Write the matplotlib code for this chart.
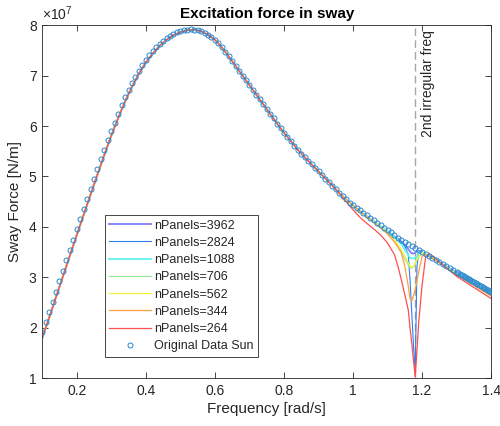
import numpy as np
import matplotlib
matplotlib.use("Agg")
import matplotlib.pyplot as plt

plt.rcParams['font.family'] = ['Liberation Sans', 'DejaVu Sans']
plt.rcParams['mathtext.fontset'] = 'custom'
plt.rcParams['mathtext.rm'] = 'Liberation Sans'

# Original data (Sun), sway force in 1e7 N/m
freq_orig = np.round(np.arange(0.10, 1.3001, 0.01), 3)
force_orig = [
    1.92, 2.12, 2.32, 2.52, 2.72, 2.92, 3.13, 3.34, 3.54, 3.75,
    3.95, 4.15, 4.35, 4.55, 4.75, 4.95, 5.14, 5.34, 5.53, 5.72,
    5.90, 6.07, 6.24, 6.41, 6.57, 6.72, 6.85, 6.98, 7.10, 7.21,
    7.31, 7.40, 7.48, 7.56, 7.63, 7.69, 7.74, 7.79, 7.83, 7.86,
    7.88, 7.90, 7.91, 7.92, 7.91, 7.90, 7.88, 7.85, 7.81, 7.77,
    7.71, 7.64, 7.56, 7.47, 7.38, 7.29, 7.19, 7.10, 7.00, 6.91,
    6.81, 6.72, 6.62, 6.53, 6.43, 6.34, 6.24, 6.15, 6.05, 5.96,
    5.87, 5.78, 5.70, 5.61, 5.53, 5.45, 5.38, 5.31, 5.24, 5.17,
    5.10, 5.03, 4.96, 4.89, 4.82, 4.75, 4.68, 4.62, 4.55, 4.48,
    4.43, 4.38, 4.33, 4.28, 4.23, 4.18, 4.13, 4.08, 4.03, 3.98,
    3.93, 3.89, 3.84, 3.79, 3.75, 3.70, 3.66, 3.62, 3.58, 3.54,
    3.50, 3.46, 3.42, 3.38, 3.34, 3.30, 3.26, 3.22, 3.18, 3.14,
    3.10,
]
# dense part of the original data at the high-frequency end
freq_orig_tail = np.round(np.arange(1.305, 1.4001, 0.005), 3)
force_orig_tail = [
    3.08, 3.06, 3.04, 3.02, 3.00, 2.98, 2.965, 2.945, 2.925, 2.905,
    2.885, 2.865, 2.85, 2.83, 2.81, 2.79, 2.775, 2.755, 2.74, 2.72,
]

# Panel results: shared part below 0.95 rad/s
freq_low = np.round(np.arange(0.10, 0.9401, 0.02), 3)
force_low = [
    1.80, 2.20, 2.61, 3.02, 3.43, 3.84, 4.24, 4.64, 5.04, 5.43,
    5.81, 6.16, 6.49, 6.78, 7.04, 7.26, 7.44, 7.59, 7.71, 7.80,
    7.86, 7.90, 7.91, 7.88, 7.81, 7.71, 7.56, 7.38, 7.19, 7.00,
    6.81, 6.62, 6.43, 6.24, 6.05, 5.87, 5.70, 5.53, 5.38, 5.24,
    5.10, 4.96, 4.82,
]

# Panel results around the irregular frequency and above
freq_high = [0.96, 0.98, 1.00, 1.02, 1.04, 1.06, 1.08, 1.10, 1.12, 1.13,
             1.14, 1.15, 1.16, 1.165, 1.17, 1.175, 1.18, 1.185, 1.19, 1.20,
             1.21, 1.22, 1.24, 1.26, 1.30, 1.35, 1.40]
force_3962 = [4.67, 4.54, 4.42, 4.31, 4.21, 4.11, 4.01, 3.91, 3.81, 3.76,
              3.71, 3.64, 3.56, 3.51, 3.48, 3.47, 3.49, 3.52, 3.53, 3.50,
              3.46, 3.42, 3.34, 3.26, 3.09, 2.90, 2.71]
force_2824 = [4.67, 4.54, 4.42, 4.31, 4.21, 4.11, 4.01, 3.91, 3.81, 3.76,
              3.70, 3.62, 3.45, 2.95, 2.30, 1.65, 1.13, 3.20, 3.50, 3.50,
              3.46, 3.42, 3.34, 3.26, 3.09, 2.90, 2.71]
force_1088 = [4.67, 4.54, 4.42, 4.31, 4.21, 4.11, 4.01, 3.91, 3.80, 3.74,
              3.66, 3.55, 3.44, 3.39, 3.38, 3.38, 3.38, 3.42, 3.50, 3.50,
              3.46, 3.42, 3.34, 3.26, 3.08, 2.89, 2.70]
force_706 = [4.66, 4.53, 4.41, 4.30, 4.20, 4.10, 4.00, 3.89, 3.72, 3.62,
             3.50, 3.36, 3.24, 3.19, 3.18, 3.21, 3.27, 3.34, 3.41, 3.48,
             3.46, 3.42, 3.34, 3.25, 3.07, 2.87, 2.68]
force_562 = [4.66, 4.53, 4.41, 4.30, 4.20, 4.10, 4.00, 3.89, 3.74, 3.65,
             3.55, 3.42, 3.28, 3.22, 3.20, 3.22, 3.28, 3.36, 3.43, 3.49,
             3.46, 3.42, 3.34, 3.25, 3.06, 2.86, 2.66]
force_344 = [4.68, 4.55, 4.43, 4.31, 4.20, 4.09, 3.98, 3.86, 3.70, 3.60,
             3.48, 3.22, 2.82, 2.58, 2.53, 2.64, 2.77, 2.93, 3.10, 3.42,
             3.45, 3.42, 3.33, 3.24, 3.05, 2.84, 2.63]
force_264 = [4.66, 4.50, 4.34, 4.19, 4.07, 3.96, 3.84, 3.68, 3.45, 3.22,
             2.95, 2.65, 2.35, 2.00, 1.70, 1.35, 1.03, 1.55, 2.10, 2.85,
             3.40, 3.47, 3.37, 3.25, 3.02, 2.80, 2.58]

panel_labels = ['nPanels=3962', 'nPanels=2824', 'nPanels=1088', 'nPanels=706',
                'nPanels=562', 'nPanels=344', 'nPanels=264']
panel_high = [force_3962, force_2824, force_1088, force_706,
              force_562, force_344, force_264]
panel_colors = ['#7f7fff', '#2f80ed', '#5ff2f2', '#90e890',
                '#f2f23a', '#ffa040', '#ff4d4d']
panel_widths = [1.3, 0.8, 1.3, 0.8, 0.9, 0.9, 0.9]

irr_freq = 1.18

xticks = [0.2, 0.4, 0.6, 0.8, 1.0, 1.2, 1.4]
xticklabels = ['0.2', '0.4', '0.6', '0.8', '1', '1.2', '1.4']
yticks = [1, 2, 3, 4, 5, 6, 7, 8]

fig = plt.figure(figsize=(5, 4.26), dpi=100)
ax = fig.add_axes([0.0844, 0.112, 0.898, 0.829])

txt = '#262626'

ax.axvline(irr_freq, color='#a6a6a6', lw=1.0, dashes=(5.5, 3.0), zorder=1)

for lab, vals, col, lw in zip(panel_labels, panel_high, panel_colors, panel_widths):
    xs = list(freq_low) + freq_high
    ys = force_low + vals
    ax.plot(xs, ys, color=col, lw=lw, label=lab, zorder=2)

ax.plot(list(freq_orig) + list(freq_orig_tail), force_orig + force_orig_tail,
        'o', mfc='none', mec='#2a86d0', ms=3.6, mew=0.7,
        label='Original Data Sun', zorder=3)

ax.text(irr_freq + 0.016, 0.986, '2nd irregular freq', rotation=90,
        transform=ax.get_xaxis_transform(), ha='left', va='top',
        fontsize=10, color=txt)

ax.set_xlim(0.1, 1.4)
ax.set_ylim(1, 8)
ax.set_xticks(xticks)
ax.set_xticklabels(xticklabels)
ax.set_yticks(yticks)
ax.tick_params(direction='in', length=4, width=0.6, top=True, right=True,
               labelsize=10, colors=txt, pad=4)
for s in ax.spines.values():
    s.set_color(txt)
    s.set_linewidth(0.6)

ax.set_xlabel('Frequency [rad/s]', fontsize=11, color=txt, labelpad=3)
ax.set_ylabel('Sway Force [N/m]', fontsize=11, color=txt, labelpad=5)
ax.set_title('Excitation force in sway', fontsize=11, fontweight='bold', pad=5)
ax.text(0.0, 1.006, '×10$^{7}$', transform=ax.transAxes, ha='left', va='bottom',
        fontsize=10, color=txt)

leg = ax.legend(loc='upper left', bbox_to_anchor=(0.14, 0.462), borderaxespad=0,
                fontsize=9, handlelength=3.3, handletextpad=0.3, labelspacing=0.42,
                borderpad=0.35, fancybox=False, framealpha=1, edgecolor=txt)
leg.get_frame().set_linewidth(0.6)
for t in leg.get_texts():
    t.set_color(txt)

fig.savefig('out.png', dpi=100)
